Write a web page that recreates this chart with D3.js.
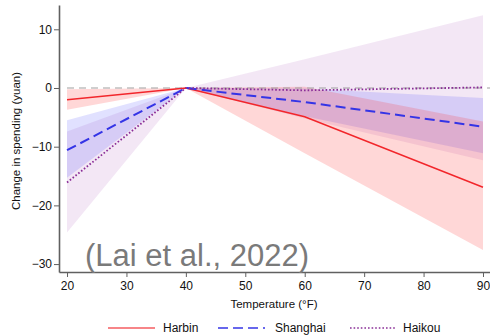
<!DOCTYPE html>
<html>
<head>
<meta charset="utf-8">
<script src="https://cdn.jsdelivr.net/npm/d3@7"></script>
<style>
  html, body { margin: 0; padding: 0; background: #fff; }
  svg { display: block; font-family: "Liberation Sans", Arial, Helvetica, sans-serif; }
</style>
</head>
<body>
<svg id="chart" width="490" height="336"></svg>
<script>
// Temperature points (°F) at which the spending response is estimated
const temps = [20, 40, 60, 90];

// Point estimates of the change in spending (yuan)
const harbin   = [-2.0, 0, -4.9, -16.9];
const shanghai = [-10.6, 0, -2.4, -6.6];
const haikou   = [-16.1, 0, -0.4, 0.1];

// Confidence bands: lower and upper bounds
const harbinLo   = [-3.7, 0, -11.1, -27.6];
const harbinHi   = [-0.2, 0, 0.2, -5.7];
const shanghaiLo = [-15.3, 0, -4.8, -11.1];
const shanghaiHi = [-5.5, 0, -0.1, -1.7];
const haikouLo   = [-24.6, 0, -5.2, -12.3];
const haikouHi   = [-7.4, 0, 4.9, 12.4];

const xTicks = [20, 30, 40, 50, 60, 70, 80, 90];
const yTicks = [-30, -20, -10, 0, 10];

const cities = ["Harbin", "Shanghai", "Haikou"];

const svg = d3.select("#chart");

const x = d3.scaleLinear().domain([18.65, 91.18]).range([59, 490]);
const y = d3.scaleLinear().domain([-31.35, 14.14]).range([272, 5]);

const series = [
  { name: cities[0], est: harbin,   lo: harbinLo,   hi: harbinHi,
    line: "#f2262b", band: "rgba(255,40,40,0.19)", width: 1.5, dash: null },
  { name: cities[1], est: shanghai, lo: shanghaiLo, hi: shanghaiHi,
    line: "#3434e6", band: "rgba(40,40,255,0.14)", width: 2, dash: "10,5" },
  { name: cities[2], est: haikou,   lo: haikouLo,   hi: haikouHi,
    line: "#8a2d97", band: "rgba(150,40,160,0.11)", width: 1.8, dash: "1.6,2" }
];

const area = d3.area()
  .x((d, i) => x(temps[i]))
  .y0(d => y(d[0]))
  .y1(d => y(d[1]));

const line = d3.line()
  .x((d, i) => x(temps[i]))
  .y(d => y(d));

// Confidence bands (widest first)
const bandOrder = [series[2], series[1], series[0]];
svg.append("g").selectAll("path")
  .data(bandOrder)
  .join("path")
  .attr("d", s => area(s.lo.map((v, i) => [v, s.hi[i]])))
  .attr("fill", s => s.band)
  .attr("stroke", "none");

// Reference line at zero
svg.append("line")
  .attr("x1", x(20)).attr("x2", x(91.18))
  .attr("y1", y(0)).attr("y2", y(0))
  .attr("stroke", "#a0a0a0")
  .attr("stroke-width", 1.2)
  .attr("stroke-dasharray", "7,5");

// Estimate lines
svg.append("g").selectAll("path")
  .data(series)
  .join("path")
  .attr("d", s => line(s.est))
  .attr("fill", "none")
  .attr("stroke", s => s.line)
  .attr("stroke-width", s => s.width)
  .attr("stroke-dasharray", s => s.dash);

// Axes
const axisColor = "#606060";
const xAxis = svg.append("g")
  .attr("transform", `translate(0,${y.range()[0]})`)
  .call(d3.axisBottom(x).tickValues(xTicks).tickSize(5).tickSizeOuter(0).tickPadding(4));
const yAxis = svg.append("g")
  .attr("transform", `translate(${x.range()[0]},0)`)
  .call(d3.axisLeft(y).tickValues(yTicks).tickSize(5).tickSizeOuter(0).tickPadding(2)
    .tickFormat(d => d < 0 ? "\u2212" + Math.abs(d) : d));

[xAxis, yAxis].forEach(g => {
  g.select(".domain").attr("stroke", axisColor).attr("stroke-width", 1.6);
  g.selectAll(".tick line").attr("stroke", axisColor).attr("stroke-width", 1);
  g.selectAll(".tick text").attr("fill", "#111").attr("font-size", 12)
    .attr("font-family", "Liberation Sans, Arial, sans-serif");
});

// Axis titles
svg.append("text")
  .attr("x", 274).attr("y", 308)
  .attr("text-anchor", "middle")
  .attr("font-size", 11.5).attr("fill", "#111")
  .text("Temperature (°F)");

svg.append("text")
  .attr("transform", "translate(20,141) rotate(-90)")
  .attr("text-anchor", "middle")
  .attr("font-size", 11.5).attr("fill", "#111")
  .text("Change in spending (yuan)");

// Source annotation
svg.append("text")
  .attr("x", 85).attr("y", 266)
  .attr("font-size", 31).attr("fill", "#7a7a7a")
  .text("(Lai et al., 2022)");

// Legend
const legendItems = [
  { s: series[0], x0: 108, x1: 155, tx: 163 },
  { s: series[1], x0: 218, x1: 265, tx: 275 },
  { s: series[2], x0: 350, x1: 395, tx: 403 }
];
const lg = svg.append("g");
legendItems.forEach(it => {
  lg.append("line")
    .attr("x1", it.x0).attr("x2", it.x1)
    .attr("y1", 328).attr("y2", 328)
    .attr("stroke", it.s.line)
    .attr("stroke-opacity", 0.75)
    .attr("stroke-width", it.s.width)
    .attr("stroke-dasharray", it.s.dash);
  lg.append("text")
    .attr("x", it.tx).attr("y", 332)
    .attr("font-size", 12).attr("fill", "#111")
    .text(it.s.name);
});
</script>
</body>
</html>
